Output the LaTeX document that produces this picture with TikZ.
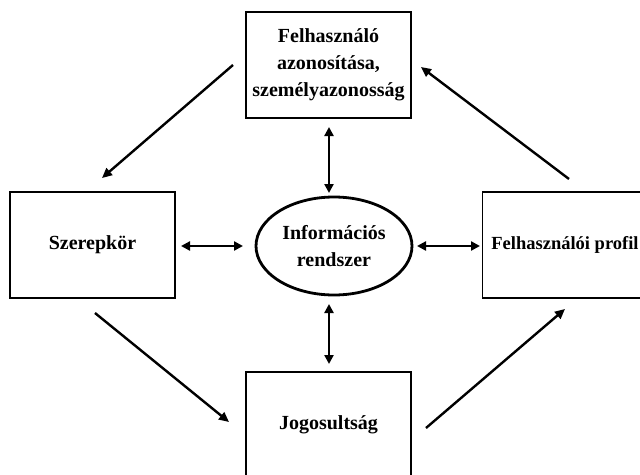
\documentclass[tikz,border=0pt]{standalone}
\usepackage{fontspec}
\setmainfont{Liberation Serif}
\usetikzlibrary{arrows.meta,shapes.geometric}
\begin{document}
\begin{tikzpicture}[x=1pt,y=-1pt,
  box/.style={draw,line width=1.6pt,minimum width=165pt,minimum height=106pt,inner sep=0pt,align=center,font=\bfseries\fontsize{20}{27}\selectfont},
  sysnode/.style={ellipse,draw,line width=2.8pt,minimum width=156pt,minimum height=98pt,inner sep=0pt,align=center,font=\bfseries\fontsize{20}{27}\selectfont},
  arr/.style={line width=2.4pt,-{Triangle[length=10pt,width=9pt]}},
  darr/.style={line width=2.4pt,{Triangle[length=9pt,width=9pt]}-{Triangle[length=9pt,width=9pt]}}]
\useasboundingbox (0,0) rectangle (640,474);
\fill[white] (0,0) rectangle (640,474);
\node[box] (top) at (328.5,65) {Felhasználó\\azonosítása,\\személyazonosság};
\node[box] (left) at (92.5,245) {Szerepkör};
\node[box,font=\bfseries\fontsize{18.5}{25}\selectfont] (right) at (565,245) {Felhasználói profil};
\node[box] (bot) at (328.5,425) {Jogosultság};
\node[sysnode] (sys) at (334,246) {Információs\\rendszer};
% free ends of connectors
\coordinate (a1) at (233,65);  \coordinate (a2) at (102,178);
\coordinate (b1) at (95,313);  \coordinate (b2) at (229,422);
\coordinate (c1) at (426,428); \coordinate (c2) at (565,309);
\coordinate (d1) at (569,179); \coordinate (d2) at (421,67);
\coordinate (e1) at (329,127); \coordinate (e2) at (329,193);
\coordinate (f1) at (329,304); \coordinate (f2) at (329,364);
\coordinate (g1) at (181,246); \coordinate (g2) at (243,246);
\coordinate (h1) at (417,246); \coordinate (h2) at (480,246);
\draw[arr] (a1) -- (a2);
\draw[arr] (b1) -- (b2);
\draw[arr] (c1) -- (c2);
\draw[arr] (d1) -- (d2);
\draw[darr] (e1) -- (e2);
\draw[darr] (f1) -- (f2);
\draw[darr] (g1) -- (g2);
\draw[darr] (h1) -- (h2);
\end{tikzpicture}
\end{document}
